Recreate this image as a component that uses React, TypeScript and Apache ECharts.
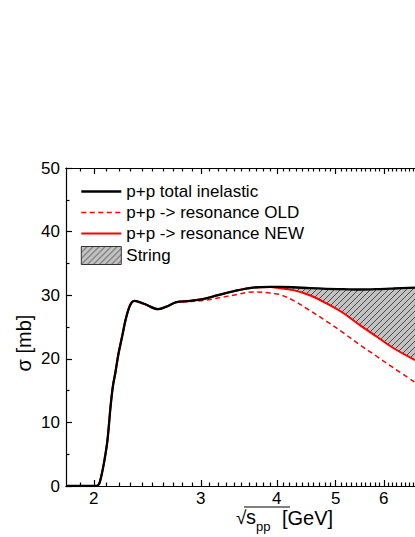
import React, { useEffect, useRef } from 'react';
import * as echarts from 'echarts';

// sqrt(s_pp) in GeV (shared grid for all curves)
const energy = [1.8, 2.0, 2.02, 2.04, 2.057, 2.08, 2.105, 2.131, 2.15, 2.17, 2.194, 2.216, 2.233, 2.254, 2.285, 2.31, 2.334, 2.38, 2.44, 2.55, 2.633, 2.734, 2.875, 3.024, 3.2, 3.389, 3.656, 3.9, 4.046, 4.255, 4.533, 4.83, 5.143, 5.48, 5.837, 6.217, 6.752];

// cross sections in mb
const totalInelastic = [0, 0, 0, 0.3, 1.5, 3.8, 7.0, 12.5, 15.7, 17.8, 20.6, 22.6, 24.1, 26.0, 28.0, 28.9, 29.1, 28.9, 28.5, 27.8, 28.2, 28.9, 29.1, 29.4, 30.0, 30.6, 31.2, 31.3, 31.3, 31.25, 31.1, 31.0, 30.95, 30.9, 30.95, 31.05, 31.2];
const resonanceOld = [0, 0, 0, 0.3, 1.5, 3.8, 7.0, 12.5, 15.7, 17.8, 20.6, 22.6, 24.1, 26.0, 28.0, 28.9, 29.1, 28.9, 28.5, 27.8, 28.2, 28.9, 29.0, 29.15, 29.55, 30.0, 30.5, 30.35, 30.1, 29.2, 27.6, 25.9, 24.1, 22.2, 20.4, 18.6, 16.3];
const resonanceNew = [0, 0, 0, 0.3, 1.5, 3.8, 7.0, 12.5, 15.7, 17.8, 20.6, 22.6, 24.1, 26.0, 28.0, 28.9, 29.1, 28.9, 28.5, 27.8, 28.2, 28.9, 29.1, 29.4, 30.0, 30.6, 31.2, 31.3, 31.1, 30.8, 30.0, 28.7, 27.2, 25.3, 23.5, 21.7, 19.8];

// index where the "String" band begins
const bandStart = 26;

const xMinE = 1.8;
const xMaxE = 6.752;
const majorTicks = [2, 3, 4, 5, 6];
const yTicks = { min: 0, max: 50, interval: 10 };

const legendNames = ['p+p total inelastic', 'p+p -> resonance OLD', 'p+p -> resonance NEW', 'String'];

const FONT = '"Liberation Sans", Arial, Helvetica, sans-serif';

function makeHatch(): HTMLCanvasElement {
  const s = 6;
  const c = document.createElement('canvas');
  c.width = s;
  c.height = s;
  const g = c.getContext('2d')!;
  g.fillStyle = '#c2c2c2';
  g.fillRect(0, 0, s, s);
  g.strokeStyle = '#4a4a4a';
  g.lineWidth = 1;
  g.beginPath();
  g.moveTo(-1, s + 1);
  g.lineTo(s + 1, -1);
  g.moveTo(-1, 1);
  g.lineTo(1, -1);
  g.moveTo(s - 1, s + 1);
  g.lineTo(s + 1, s - 1);
  g.stroke();
  return c;
}

export default function App() {
  const ref = useRef<HTMLDivElement>(null);

  useEffect(() => {
    if (!ref.current) return;
    const chart = echarts.init(ref.current, null, { renderer: 'svg' });

    const lg = (v: number) => Math.log10(v);
    const pts = (ys: number[]) => energy.map((e, i) => [lg(e), ys[i]]);
    // stacked pair stored as [sigma, logE] so that the stack happens on the y dimension
    const baseData = energy.slice(bandStart).map((e, i) => [resonanceNew[bandStart + i], lg(e)]);
    const bandData = energy
      .slice(bandStart)
      .map((e, i) => [totalInelastic[bandStart + i] - resonanceNew[bandStart + i], lg(e)]);

    const xMin = lg(xMinE);
    const xMax = lg(xMaxE);
    const majorLog = majorTicks.map(lg);
    const minorLog: number[] = [];
    for (let k = 19; k <= 67; k++) if (k % 10) minorLog.push(lg(k / 10));

    const canvas = makeHatch();
    const pattern: any = { image: canvas, repeat: 'repeat', imageWidth: 6, imageHeight: 6 };
    const S = 0.35;

    const mk = (pos: string, len: number, vals: number[], label: boolean) => ({
      type: 'value',
      min: xMin,
      max: xMax,
      position: pos,
      axisLine: { show: true, onZero: false, lineStyle: { color: '#000', width: 1.2 } },
      axisTick: { show: true, inside: true, length: len, customValues: vals, lineStyle: { color: '#000', width: 1.2 } },
      axisLabel: label
        ? {
            show: true,
            customValues: majorLog,
            formatter: (v: number) => String(Math.round(Math.pow(10, v))),
            fontSize: 17,
            color: '#000',
            fontFamily: FONT,
            margin: 4,
          }
        : { show: false },
      splitLine: { show: false },
    });

    chart.setOption({
      animation: false,
      backgroundColor: '#fff',
      grid: { left: 66, right: 0, top: 168, bottom: 51 },
      legend: {
        left: 75,
        top: 178,
        orient: 'vertical',
        itemWidth: 40,
        itemHeight: 18,
        itemGap: 4,
        selectedMode: false,
        textStyle: { fontSize: 17, color: '#000', fontFamily: FONT },
        itemStyle: { opacity: 0 },
        data: [
          { name: legendNames[0], lineStyle: { width: 2.6 } },
          { name: legendNames[1], lineStyle: { width: 1.6 } },
          { name: legendNames[2], lineStyle: { width: 2 } },
          {
            name: legendNames[3],
            icon: 'rect',
            itemStyle: { color: pattern, borderColor: '#333', borderWidth: 1, opacity: 1 },
          },
        ],
      },
      xAxis: [
        mk('bottom', 6, majorLog, true),
        mk('bottom', 3.5, minorLog, false),
        mk('top', 6, majorLog, false),
        mk('top', 3.5, minorLog, false),
      ],
      yAxis: [
        {
          type: 'value',
          min: yTicks.min,
          max: yTicks.max,
          interval: yTicks.interval,
          position: 'left',
          axisLine: { show: true, onZero: false, lineStyle: { color: '#000', width: 1.2 } },
          axisTick: { show: true, inside: true, length: 6, lineStyle: { color: '#000', width: 1.2 } },
          minorTick: { show: true, splitNumber: 2, length: 3.5, lineStyle: { color: '#000', width: 1.2 } },
          axisLabel: { fontSize: 17, color: '#000', fontFamily: FONT, margin: 6 },
          splitLine: { show: false },
        },
      ],
      graphic: [
        {
          type: 'text',
          x: 24,
          y: 343,
          rotation: Math.PI / 2,
          style: { text: 'σ [mb]', fontSize: 20, fontFamily: FONT, fill: '#000', align: 'center', verticalAlign: 'middle' },
        },
        {
          type: 'text',
          x: 236,
          y: 517,
          style: { text: '√', fontSize: 19, fontFamily: FONT, fill: '#000', align: 'left', verticalAlign: 'middle' },
        },
        {
          type: 'text',
          x: 246,
          y: 517,
          style: { text: 's', fontSize: 20, fontFamily: FONT, fill: '#000', align: 'left', verticalAlign: 'middle' },
        },
        {
          type: 'text',
          x: 256,
          y: 526,
          style: { text: 'pp', fontSize: 13, fontFamily: FONT, fill: '#000', align: 'left', verticalAlign: 'middle' },
        },
        {
          type: 'text',
          x: 282,
          y: 518,
          style: { text: '[GeV]', fontSize: 20, fontFamily: FONT, fill: '#000', align: 'left', verticalAlign: 'middle' },
        },
        {
          type: 'line',
          shape: { x1: 244, y1: 507, x2: 290, y2: 507 },
          style: { stroke: '#000', lineWidth: 1.2 },
        },
      ],
      series: [
        {
          name: 'base',
          type: 'line',
          data: baseData,
          encode: { x: 1, y: 0 },
          stack: 'string',
          smooth: S,
          symbol: 'none',
          silent: true,
          lineStyle: { width: 0, opacity: 0 },
          z: 1,
        },
        {
          name: legendNames[3],
          type: 'line',
          data: bandData,
          encode: { x: 1, y: 0 },
          stack: 'string',
          smooth: S,
          symbol: 'none',
          silent: true,
          itemStyle: { color: '#c2c2c2' },
          lineStyle: { width: 0, opacity: 0 },
          areaStyle: { color: pattern, opacity: 1 },
          z: 1,
        },
        {
          name: legendNames[1],
          type: 'line',
          data: pts(resonanceOld),
          smooth: S,
          symbol: 'none',
          itemStyle: { color: '#ff0000' },
          lineStyle: { color: '#ff0000', width: 1.5, type: [5, 3.5] },
          z: 2,
        },
        {
          name: legendNames[2],
          type: 'line',
          data: pts(resonanceNew),
          smooth: S,
          symbol: 'none',
          itemStyle: { color: '#ff0000' },
          lineStyle: { color: '#ff0000', width: 2 },
          z: 3,
        },
        {
          name: legendNames[0],
          type: 'line',
          data: pts(totalInelastic),
          smooth: S,
          symbol: 'none',
          itemStyle: { color: '#000' },
          lineStyle: { color: '#000', width: 2.3 },
          z: 4,
        },
      ],
    } as any);

    return () => chart.dispose();
  }, []);

  return (
    <div
      ref={ref}
      style={{ position: 'fixed', left: 0, top: 0, width: 415, height: 537, background: '#fff' }}
    />
  );
}
